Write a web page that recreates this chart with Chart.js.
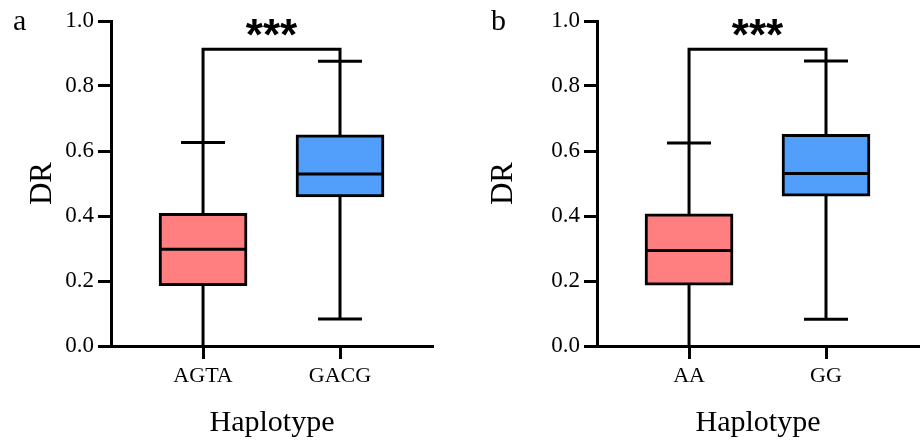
<!DOCTYPE html>
<html>
<head>
<meta charset="utf-8">
<script src="https://cdn.jsdelivr.net/npm/chart.js@4"></script>
<style>
  html, body { margin: 0; padding: 0; background: #fff; }
  .wrap { display: flex; width: 922px; height: 441px; }
  .panel { position: relative; width: 461px; height: 441px; }
</style>
</head>
<body>
<div class="wrap">
  <div class="panel"><canvas id="chartA"></canvas></div>
  <div class="panel"><canvas id="chartB"></canvas></div>
</div>
<script>
// panel a
var catsA = ['AGTA', 'GACG'];
var minA = [0.0, 0.083];
var q1A = [0.186, 0.459];
var medA = [0.298, 0.529];
var q3A = [0.408, 0.650];
var maxA = [0.626, 0.876];

// panel b
var catsB = ['AA', 'GG'];
var minB = [0.0, 0.082];
var q1B = [0.187, 0.461];
var medB = [0.294, 0.531];
var q3B = [0.407, 0.651];
var maxB = [0.625, 0.877];

var yTicks = [0, 0.2, 0.4, 0.6, 0.8, 1.0];
var bracketY = 0.913;
var sigLabel = '***';
var boxColors = ['#FF7F80', '#529FFB'];

var serif = '"Liberation Serif", "Times New Roman", serif';

// whiskers, medians, significance bracket drawn through the chart's scales
var boxPlugin = {
    id: 'boxParts',
    beforeDatasetsDraw: function (chart, args, opts) {
        var x = chart.scales.x, y = chart.scales.y, ctx = chart.ctx;
        ctx.save();
        ctx.strokeStyle = '#000';
        ctx.lineWidth = 3;
        for (var i = 0; i < opts.min.length; i++) {
            var cx = x.getPixelForValue(i);
            var half = opts.capWidth / 2;
            ctx.beginPath();
            ctx.moveTo(cx, y.getPixelForValue(opts.min[i]));
            ctx.lineTo(cx, y.getPixelForValue(opts.max[i]));
            ctx.stroke();
            [opts.min[i], opts.max[i]].forEach(function (v) {
                if (v <= 0) return;
                var py = y.getPixelForValue(v);
                ctx.beginPath();
                ctx.moveTo(cx - half, py);
                ctx.lineTo(cx + half, py);
                ctx.stroke();
            });
        }
        // bracket
        var x0 = x.getPixelForValue(0), x1 = x.getPixelForValue(1);
        var by = y.getPixelForValue(bracketY);
        ctx.beginPath();
        ctx.moveTo(x0, y.getPixelForValue(opts.max[0]));
        ctx.lineTo(x0, by);
        ctx.lineTo(x1, by);
        ctx.lineTo(x1, y.getPixelForValue(opts.max[1]));
        ctx.stroke();
        ctx.fillStyle = '#000';
        ctx.font = 'bold 44px "Liberation Sans", Arial, sans-serif';
        ctx.textAlign = 'center';
        ctx.textBaseline = 'alphabetic';
        var m = ctx.measureText(sigLabel);
        var centerY = 27;
        ctx.fillText(sigLabel, (x0 + x1) / 2, centerY + (m.actualBoundingBoxAscent - m.actualBoundingBoxDescent) / 2);
        ctx.restore();
    },
    afterDatasetsDraw: function (chart, args, opts) {
        var x = chart.scales.x, y = chart.scales.y, ctx = chart.ctx;
        ctx.save();
        ctx.strokeStyle = '#000';
        ctx.lineWidth = 3;
        for (var i = 0; i < opts.med.length; i++) {
            var cx = x.getPixelForValue(i);
            var half = opts.boxWidth / 2;
            var py = y.getPixelForValue(opts.med[i]);
            ctx.beginPath();
            ctx.moveTo(cx - half, py);
            ctx.lineTo(cx + half, py);
            ctx.stroke();
        }
        // panel letter
        ctx.fillStyle = '#000';
        ctx.font = '30px ' + serif;
        ctx.textAlign = 'left';
        ctx.textBaseline = 'alphabetic';
        ctx.fillText(opts.letter, opts.letterX, 30);
        ctx.restore();
    }
};

function makeChart(id, cats, mins, q1s, meds, q3s, maxs, letter, letterX, yWidth, rightPad) {
    var boxes = cats.map(function (c, i) { return { x: i, y: [q1s[i], q3s[i]] }; });
    return new Chart(document.getElementById(id), {
        type: 'bar',
        data: {
            datasets: [{
                data: boxes,
                backgroundColor: boxColors,
                borderColor: '#000',
                borderWidth: 3,
                borderSkipped: false,
                barThickness: 88
            }]
        },
        options: {
            responsive: false,
            animation: false,
            layout: { padding: { top: 21, right: rightPad, left: 0, bottom: 0 } },
            plugins: {
                legend: { display: false },
                tooltip: { enabled: false },
                boxParts: {
                    min: mins, max: maxs, med: meds,
                    boxWidth: 88, capWidth: 44,
                    letter: letter, letterX: letterX
                }
            },
            scales: {
                x: {
                    type: 'linear',
                    offset: false,
                    min: -0.672,
                    max: 1.679,
                    afterBuildTicks: function (s) { s.ticks = cats.map(function (c, i) { return { value: i }; }); },
                    afterFit: function (s) { s.height = 95; },
                    ticks: {
                        color: '#000',
                        padding: 4,
                        font: { family: serif, size: 22 },
                        callback: function (v) { return cats[v]; }
                    },
                    grid: { offset: false, drawOnChartArea: false, drawTicks: true, tickLength: 13, tickWidth: 3, tickColor: '#000' },
                    border: { display: true, width: 3, color: '#000' },
                    title: {
                        display: true,
                        text: 'Haplotype',
                        color: '#000',
                        font: { family: serif, size: 30 },
                        padding: { top: 0, bottom: 0 }
                    }
                },
                y: {
                    min: 0,
                    max: 1,
                    afterBuildTicks: function (s) { s.ticks = yTicks.map(function (v) { return { value: v }; }); },
                    afterFit: function (s) { s.width = yWidth; },
                    ticks: {
                        color: '#000',
                        padding: 4,
                        font: { family: serif, size: 23 },
                        callback: function (v) { return v.toFixed(1); }
                    },
                    grid: { drawOnChartArea: false, drawTicks: true, tickLength: 13, tickWidth: 3, tickColor: '#000' },
                    border: { display: true, width: 3, color: '#000' },
                    title: {
                        display: true,
                        text: 'DR',
                        color: '#000',
                        font: { family: serif, size: 31 },
                        padding: { top: 24, bottom: 0 }
                    }
                }
            }
        },
        plugins: [boxPlugin]
    });
}

document.getElementById('chartA').width = 461;
document.getElementById('chartA').height = 441;
document.getElementById('chartB').width = 461;
document.getElementById('chartB').height = 441;

makeChart('chartA', catsA, minA, q1A, medA, q3A, maxA, 'a', 13, 111, 28);
makeChart('chartB', catsB, minB, q1B, medB, q3B, maxB, 'b', 30, 136, 3);
</script>
</body>
</html>
